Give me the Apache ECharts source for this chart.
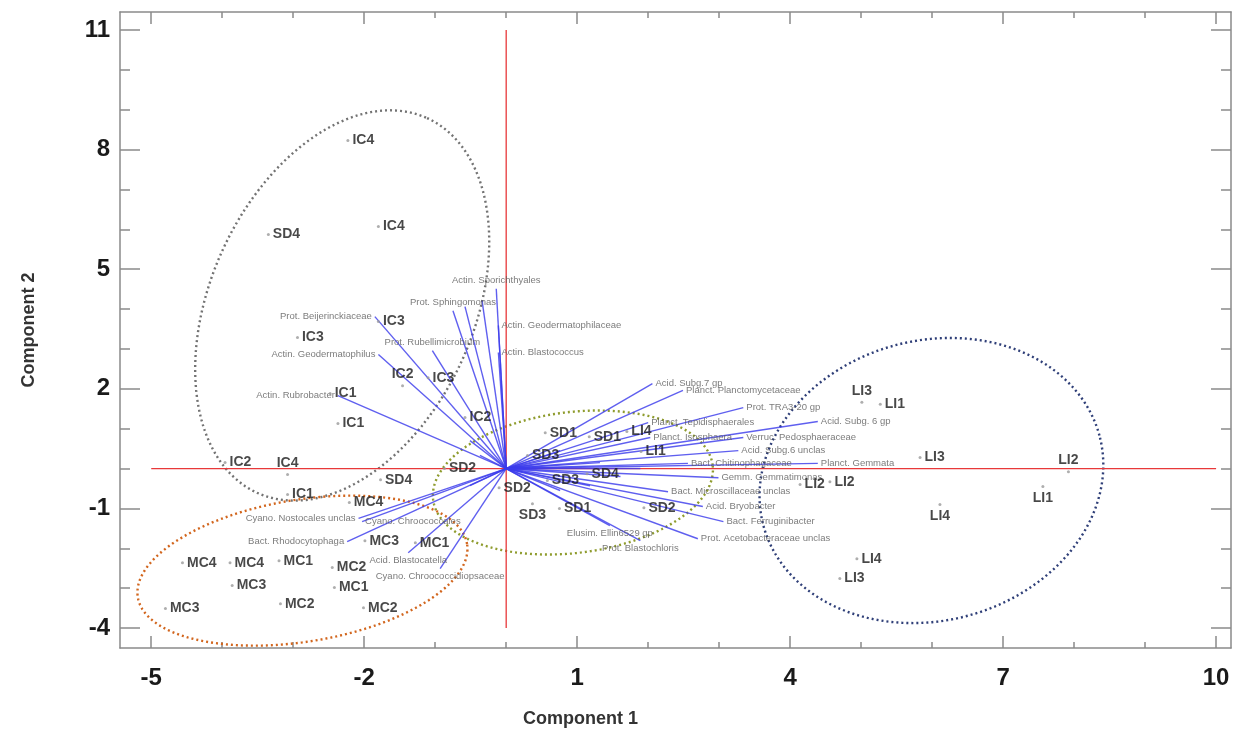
<!DOCTYPE html>
<html><head><meta charset="utf-8">
<script src="https://cdn.jsdelivr.net/npm/echarts@6/dist/echarts.min.js"></script>
<style>html,body{margin:0;padding:0;background:#fff}#c{width:1245px;height:743px}</style>
</head><body><div id="c"></div>
<script>
// ---- tick values ----
const xTicks = [-5, -2, 1, 4, 7, 10];
const yTicks = [-4, -1, 2, 5, 8, 11];
const xMinorTicks = [-5,-4,-3,-2,-1,0,1,2,3,4,5,6,7,8,9,10];
const yMinorTicks = [-4,-3,-2,-1,0,1,2,3,4,5,6,7,8,9,10,11];

// ---- sample scores ----
const sampleNames = ['IC4','SD4','IC4','IC3','IC3','IC2','IC3','IC1','IC1','IC2','IC4','IC2','IC1','SD4','SD2','MC4',
  'MC4','MC4','MC1','MC3','MC3','MC2','MC2','MC1','MC2','MC3','MC1',
  'SD1','SD1','SD3','SD3','SD4','SD2','SD3','SD1','SD2',
  'LI4','LI1','LI3','LI1','LI3','LI2','LI2','LI2','LI1','LI4','LI4','LI3'];
const sampleX = [-2.23,-3.35,-1.80,-1.80,-2.94,-1.46,-1.10,-2.48,-2.37,-0.58,-3.08,-3.96,-3.08,-1.77,-0.87,-2.21,
  -4.56,-3.89,-3.20,-3.86,-4.80,-3.18,-2.45,-2.42,-2.01,-1.99,-1.28,
  0.55,1.17,0.30,0.58,1.14,-0.10,0.37,0.75,1.94,
  1.70,1.90,5.01,5.27,5.83,7.92,4.14,4.56,7.56,6.11,4.94,4.70];
const sampleY = [8.23,5.87,6.07,3.69,3.29,2.08,2.28,1.88,1.13,1.28,-0.15,0.15,-0.65,-0.28,0.00,-0.85,
  -2.36,-2.36,-2.31,-2.93,-3.51,-3.39,-2.48,-2.98,-3.49,-1.81,-1.86,
  0.90,0.80,0.33,-0.30,-0.13,-0.48,-0.88,-1.00,-0.98,
  0.93,0.43,1.66,1.61,0.28,-0.08,-0.40,-0.33,-0.45,-0.90,-2.26,-2.76];
// label placement (style)
const sampleLabelPos = ['right','right','right','right','right','top','right','right','right','right','top','right','right','right','right','right',
  'right','right','right','right','right','right','right','right','right','right','right',
  'right','right','right','right','right','right','bottom','right','right',
  'right','right','top','right','right','top','right','right','bottom','bottom','right','right'];

// ---- variable loadings ----
const loadingNames = ['Actin. Rubrobacter','Actin. Geodermatophilus','Prot. Beijerinckiaceae','Prot. Rubellimicrobium',
  'Prot. Sphingomonas','','','Actin. Sporichthyales','Actin. Geodermatophilaceae','Actin. Blastococcus',
  'Acid. Subg.7 gp','Planct. Planctomycetaceae','Prot. TRA3-20 gp','Acid. Subg. 6 gp','Planct. Tepidisphaerales',
  'Planct. Isosphaera','Verruc. Pedosphaeraceae','Acid. Subg.6 unclas','Bact. Chitinophagaceae','Planct. Gemmata',
  'Gemm. Gemmatimonas','Bact. Microscillaceae unclas','Acid. Bryobacter','Bact. Ferruginibacter','Prot. Acetobacteraceae unclas',
  'Elusim. Ellin6529 gp','Prot. Blastochloris',
  'Cyano. Nostocales unclas','Cyano. Chroococcales','Bact. Rhodocytophaga','Acid. Blastocatella','Cyano. Chroococcidiopsaceae',
  '','','','','','','','',''];
const loadingX = [-2.37,-1.80,-1.85,-1.04,-0.75,-0.58,-0.34,-0.14,-0.11,-0.11,
  2.06,2.49,3.34,4.39,2.00,2.03,3.34,3.27,2.56,4.39,2.99,2.28,2.77,3.06,2.70,1.46,1.89,
  -2.08,-2.03,-2.24,-1.38,-0.93,
  1.32,1.61,1.18,0.76,1.89,0.76,-0.51,-0.37,-0.51];
const loadingY = [1.83,2.86,3.81,2.96,3.96,4.06,4.21,4.51,3.59,2.91,
  2.13,1.96,1.53,1.18,1.15,0.78,0.78,0.45,0.13,0.13,-0.23,-0.58,-0.95,-1.33,-1.76,-1.43,-1.81,
  -1.25,-1.33,-1.83,-2.11,-2.51,
  0.15,-0.20,-0.43,0.45,0.00,-0.55,0.70,0.33,-0.43];
const loadingLabelPos = ['left','left','left','top','top','top','top','top','right','right',
  'right','right','right','right','right','right','right','right','right','right','right','right','right','right','right','bottom','bottom',
  'left','right','left','bottom','bottom',
  'right','right','right','right','right','right','left','left','left'];

// ---- group ellipses: centre and two conjugate semi-axis vectors (data units) ----
const ellipseCenter = [[-2.31,4.09],[-2.87,-2.56],[0.94,-0.35],[5.99,-0.30]];
const ellipseAxisA  = [[1.196,4.70],[2.319,0.669],[1.969,0.431],[2.367,1.130]];
const ellipseAxisB  = [[1.691,-1.365],[-0.16,1.758],[-0.121,1.753],[-0.511,3.392]];
const ellipseColors = ['#737373','#d2661e','#8f9c2e','#2f3f78'];

// ---- reference lines ----
const refVertical = [[0,-4],[0,11]];
const refHorizontal = [[-5,0],[10,0]];

function ellipsePts(c, a, b) {
  const pts = [];
  for (let i = 0; i <= 180; i++) {
    const t = i / 180 * 2 * Math.PI;
    pts.push([c[0] + a[0]*Math.cos(t) + b[0]*Math.sin(t), c[1] + a[1]*Math.cos(t) + b[1]*Math.sin(t)]);
  }
  return pts;
}

const NARROW = 'Liberation Sans Narrow, Liberation Sans, Arial, sans-serif';
const frameColor = '#8a8a8a';
const XMIN = -5.44, XMAX = 10.21, YMIN = -4.5, YMAX = 11.45;

function xAx(pos, major) {
  return {
    type: 'value', min: XMIN, max: XMAX, position: pos,
    axisLine: { show: major, onZero: false, lineStyle: { color: frameColor, width: 1.5 } },
    splitLine: { show: false },
    axisTick: { show: true, inside: true, length: major ? 12 : 6, customValues: major ? xTicks : xMinorTicks,
      lineStyle: { color: frameColor, width: 1.5 } },
    axisLabel: (major && pos === 'bottom') ? { show: true, customValues: xTicks, fontSize: 24, fontWeight: 'bold',
      color: '#1a1a1a', margin: 18, fontFamily: NARROW } : { show: false }
  };
}
function yAx(pos, major) {
  return {
    type: 'value', min: YMIN, max: YMAX, position: pos,
    axisLine: { show: major, onZero: false, lineStyle: { color: frameColor, width: 1.5 } },
    splitLine: { show: false },
    axisTick: { show: true, inside: true, length: major ? 20 : 10, customValues: major ? yTicks : yMinorTicks,
      lineStyle: { color: frameColor, width: 1.5 } },
    axisLabel: (major && pos === 'left') ? { show: true, customValues: yTicks, fontSize: 24, fontWeight: 'bold',
      color: '#1a1a1a', margin: 10, fontFamily: NARROW } : { show: false }
  };
}

const xAxes = [xAx('bottom', true), xAx('bottom', false), xAx('top', true), xAx('top', false)];
xAxes[0].name = 'Component 1';
xAxes[0].nameLocation = 'middle';
xAxes[0].nameGap = 62;
xAxes[0].nameTextStyle = { fontSize: 18, fontWeight: 'bold', color: '#333', fontFamily: NARROW, padding: [0, 190, 0, 0] };
const yAxes = [yAx('left', true), yAx('left', false), yAx('right', true), yAx('right', false)];
yAxes[0].name = 'Component 2';
yAxes[0].nameLocation = 'middle';
yAxes[0].nameGap = 82;
yAxes[0].nameTextStyle = { fontSize: 18, fontWeight: 'bold', color: '#333', fontFamily: NARROW };

const series = [];
for (let i = 0; i < ellipseCenter.length; i++) {
  series.push({
    type: 'line', data: ellipsePts(ellipseCenter[i], ellipseAxisA[i], ellipseAxisB[i]),
    symbol: 'none', smooth: false, silent: true, z: 1,
    lineStyle: { color: ellipseColors[i], width: 2.4, type: [2, 3] }
  });
}
series.push({ type: 'line', data: refVertical, symbol: 'none', silent: true, z: 2, lineStyle: { color: '#e8383a', width: 1.3 } });
series.push({ type: 'line', data: refHorizontal, symbol: 'none', silent: true, z: 2, lineStyle: { color: '#e8383a', width: 1.3 } });
series.push({
  type: 'lines', coordinateSystem: 'cartesian2d', silent: true, z: 3,
  lineStyle: { color: 'rgba(60,60,235,0.82)', width: 1.4, opacity: 1 },
  data: loadingX.map((x, i) => ({ coords: [[0, 0], [x, loadingY[i]]] }))
});
series.push({
  type: 'scatter', symbolSize: 0, silent: true, z: 4,
  data: loadingX.map((x, i) => ({ value: [x, loadingY[i]], name: loadingNames[i],
    label: { position: loadingLabelPos[i] } })),
  label: { show: true, formatter: p => p.name, distance: 3, fontSize: 9.5, color: '#5a5a5a', fontFamily: NARROW }
});
series.push({
  type: 'scatter', symbol: 'circle', symbolSize: 3, silent: true, z: 5,
  itemStyle: { color: '#9a9a9a' },
  data: sampleX.map((x, i) => ({ value: [x, sampleY[i]], name: sampleNames[i],
    label: { position: sampleLabelPos[i] } })),
  label: { show: true, formatter: p => p.name, distance: 3, fontSize: 14, fontWeight: 'bold', color: '#1a1a1a', fontFamily: NARROW }
});

const chart = echarts.init(document.getElementById('c'), null, { renderer: 'canvas' });
chart.setOption({
  animation: false,
  backgroundColor: '#fff',
  grid: { left: 120, right: 14, top: 12, bottom: 95, containLabel: false },
  xAxis: xAxes,
  yAxis: yAxes,
  series: series
});
</script></body></html>
